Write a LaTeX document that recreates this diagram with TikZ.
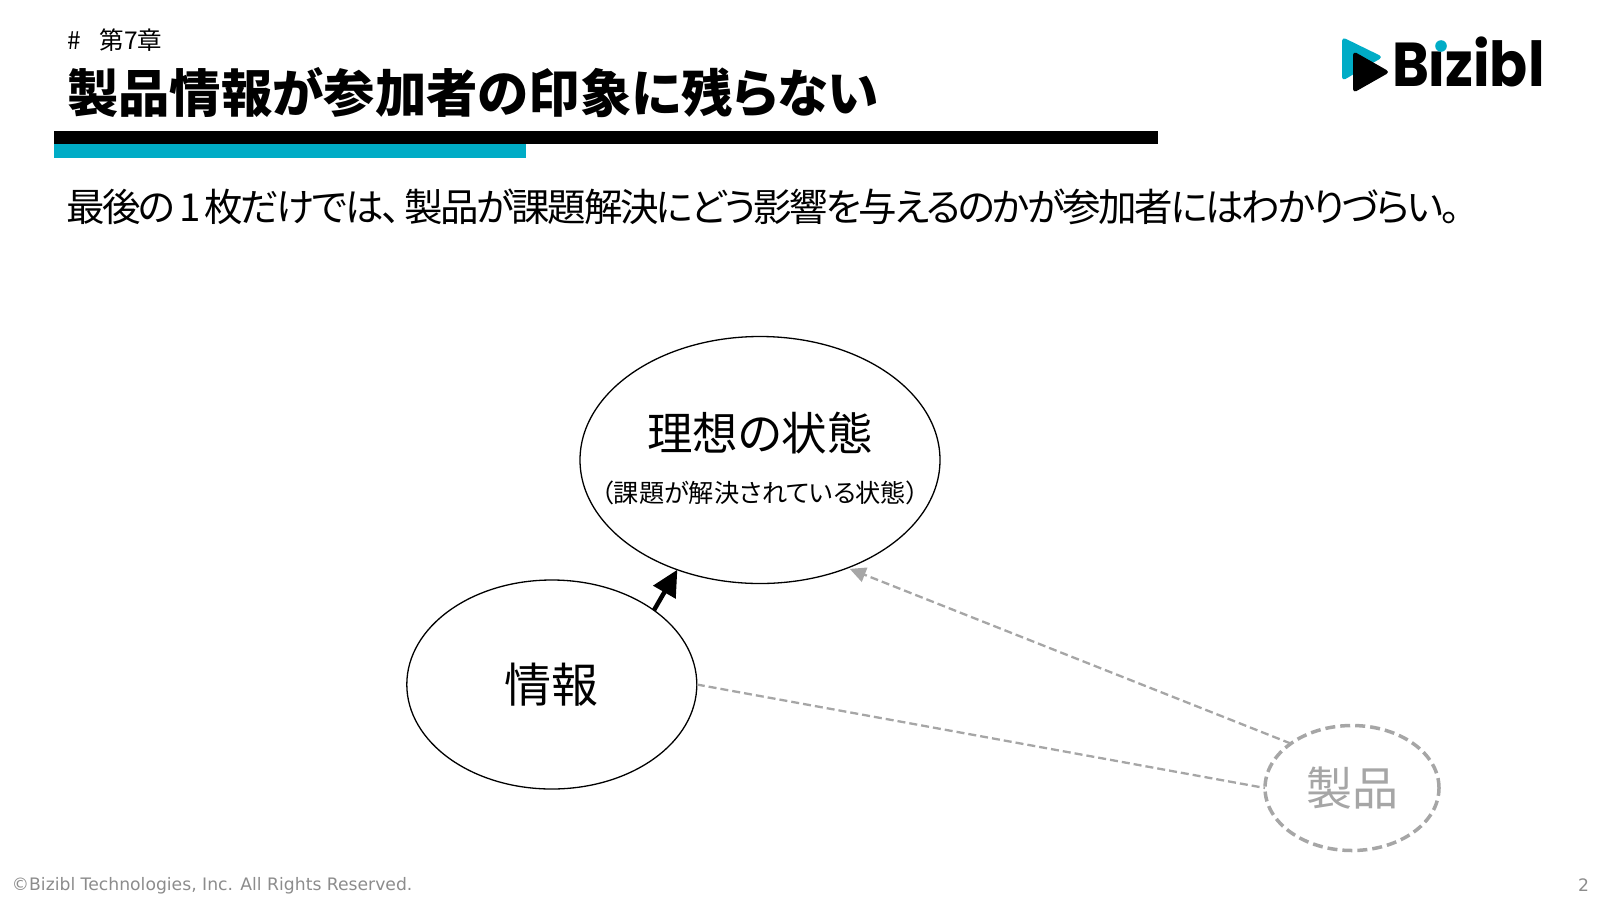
\documentclass[tikz,border=0pt]{standalone}
\usepackage{xcolor}
\usepackage{fontspec}
\setmainfont{Noto Sans CJK JP}[RawFeature={+palt}]
\newfontfamily\leadfont{Noto Sans CJK JP}[RawFeature={+palt}, LetterSpace=-6.4]
\newfontfamily\footfont{DejaVu Sans}
\newfontfamily\logofont{Poppins}[FakeStretch=0.905]
\usetikzlibrary{positioning,shapes.geometric,arrows.meta}
\definecolor{bizteal}{HTML}{00ACC6}
\definecolor{bizgray}{HTML}{A6A6A6}
\definecolor{footgray}{HTML}{8C8C8C}

\begin{document}
\begin{tikzpicture}[x=1pt, y=-1pt, on grid,
    every node/.style={inner sep=0pt, outer sep=0pt},
    blob/.style={ellipse, draw=black, line width=1.3pt},
    faded/.style={ellipse, draw=bizgray, line width=3.5pt, dash pattern=on 10pt off 5pt, text=bizgray},
    hint/.style={draw=bizgray, line width=2.3pt, dash pattern=on 8pt off 4pt},
    bartext/.style={anchor=west, text=black}]
    \useasboundingbox (0,0) rectangle (1600,900);

    % Heading
    \node[bartext, font=\fontsize{24.5}{28}\selectfont] (chapter) at (67,40) {\#\hspace{19pt}第7章};
    \node[bartext, font=\bfseries\fontsize{51.4}{60}\selectfont] (headline) at (67,93) {製品情報が参加者の印象に残らない};
    \node[bartext, font=\leadfont\fontsize{38.5}{46}\selectfont] (lead) at (66,207) {最後の\hspace{4pt}1\hspace{4pt}枚だけでは、\hspace{4pt}製品が課題解決にどう影響を与えるのかが参加者にはわかりづらい。};
    \fill[black] (54,131) rectangle (1158,144);
    \fill[bizteal] (54,144) rectangle (526,158);

    % Logo
    \fill[bizteal, rounded corners=4pt] (1342,37) -- (1383,57) -- (1342,81) -- cycle;
    \fill[black, rounded corners=4pt] (1353,51) -- (1390,72) -- (1353,93) -- cycle;
    \node[anchor=base west, font=\logofont\bfseries\fontsize{62}{70}\selectfont] (logo) at (1392,86) {Bizibl};
    \fill[white] (1428,28) rectangle (1454,49);
    \fill[bizteal] (1441,46) circle (5.8);

    % Ellipses
    \node[blob, minimum width=360pt, minimum height=247pt] (ideal) at (760,460) {};
    \node[font=\fontsize{45.5}{50}\selectfont, above=6pt of ideal.center] (idealtitle) {理想の状態};
    \node[font=\fontsize{25.2}{30}\selectfont, below=21pt of ideal.center] (idealnote) {（課題が解決されている状態）};
    \node[blob, minimum width=290pt, minimum height=209pt, font=\fontsize{47}{52}\selectfont] (info) at (551.8,684.5) {情報};
    \node[faded, minimum width=174pt, minimum height=125pt, font=\fontsize{46}{50}\selectfont] (product) at (1352,788) {製品};

    % Arrows
    \draw[-{Triangle[length=26pt, width=25pt]}, line width=4.5pt] (info.36) -- (ideal.233);
    \draw[hint, -{Triangle[length=16pt, width=15pt]}, shorten >=2.5pt] (product.144.5) -- (ideal.309);
    \draw[hint] (info.east) -- (product.west);

    % Footer
    \node[bartext, font=\footfont\fontsize{17.2}{21}\selectfont, text=footgray] (rights) at (12,885.5) {©Bizibl Technologies, Inc. All Rights Reserved.};
    \node[anchor=east, font=\footfont\fontsize{17.2}{21}\selectfont, text=footgray] (pageno) at (1589,885.5) {2};
\end{tikzpicture}
\end{document}
